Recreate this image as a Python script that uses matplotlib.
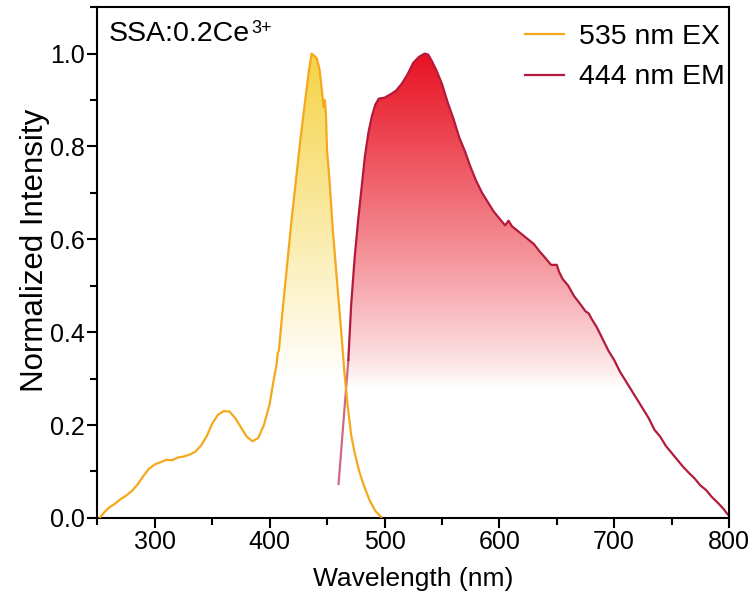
import numpy as np
import matplotlib
matplotlib.use("Agg")
import matplotlib.pyplot as plt
from matplotlib.ticker import MultipleLocator

plt.rcParams['font.family'] = ['Liberation Sans', 'DejaVu Sans']

# ---------------- data ----------------
ex_wl = [252, 256, 260, 265, 270, 275, 280, 285, 290, 295, 300, 305, 310, 315,
         320, 325, 330, 335, 340, 345, 350, 355, 360, 365, 370, 375, 380, 385,
         390, 395, 400, 403, 406, 407, 408, 411, 415, 419, 423, 427, 431, 434,
         436.5, 439, 441, 443.5, 445.5, 447, 448, 449, 450, 452, 455, 458, 461,
         463, 465, 468, 471, 474, 478, 482, 487, 492, 497]
ex_int = [0.0, 0.012, 0.022, 0.03, 0.04, 0.048, 0.058, 0.072, 0.09, 0.106,
          0.115, 0.12, 0.125, 0.124, 0.13, 0.132, 0.136, 0.142, 0.155, 0.175,
          0.203, 0.222, 0.23, 0.229, 0.215, 0.195, 0.175, 0.165, 0.172, 0.2,
          0.245, 0.29, 0.33, 0.355, 0.36, 0.44, 0.54, 0.64, 0.73, 0.82, 0.9,
          0.96, 1.0, 0.995, 0.99, 0.965, 0.92, 0.885, 0.9, 0.87, 0.79, 0.73,
          0.62, 0.53, 0.44, 0.38, 0.315, 0.24, 0.178, 0.14, 0.1, 0.07, 0.038,
          0.015, 0.002]

em_wl = [460, 468.5, 471, 474, 477, 480, 483, 486, 489, 492, 495, 500, 505,
         510, 515, 520, 525, 530, 535, 538, 541, 545, 550, 555, 560, 565, 570,
         575, 580, 585, 590, 595, 600, 605, 608, 611, 615, 620, 625, 630, 635,
         640, 645, 650, 652, 655, 660, 665, 670, 675, 678, 680, 685, 690, 695,
         700, 705, 710, 715, 720, 725, 730, 735, 740, 745, 750, 755, 760, 765,
         770, 775, 780, 785, 790, 795, 798, 800]
em_int = [0.073, 0.34, 0.46, 0.56, 0.64, 0.71, 0.78, 0.83, 0.865, 0.89, 0.903,
          0.905, 0.912, 0.92, 0.935, 0.955, 0.98, 0.993, 1.0, 0.998, 0.985,
          0.965, 0.935, 0.895, 0.86, 0.82, 0.79, 0.755, 0.725, 0.7, 0.68, 0.66,
          0.645, 0.63, 0.64, 0.628, 0.62, 0.61, 0.6, 0.59, 0.574, 0.56, 0.545,
          0.545, 0.53, 0.515, 0.5, 0.478, 0.462, 0.445, 0.44, 0.43, 0.41, 0.385,
          0.36, 0.34, 0.315, 0.295, 0.275, 0.255, 0.235, 0.215, 0.19, 0.175,
          0.155, 0.14, 0.125, 0.11, 0.097, 0.085, 0.07, 0.06, 0.045, 0.033,
          0.02, 0.01, 0.005]

ex_label = "535 nm EX"
em_label = "444 nm EM"
sample_label = "SSA:0.2Ce"
sample_sup = "3+"

ex_color = "#f5a81c"
em_color = "#b31b3c"

# ---------------- figure ----------------
fig = plt.figure(figsize=(7.55, 5.98), dpi=100)
ax = fig.add_axes([0.129, 0.134, 0.8366, 0.854])
ax.set_xlim(250, 800)
ax.set_ylim(0, 1.1)


def gradient_fill(x, y, rgb, y0, y1, xmask, gamma=1.0):
    x = np.asarray(x, float)
    y = np.asarray(y, float)
    m = (x >= xmask[0]) & (x <= xmask[1])
    poly = ax.fill_between(x[m], 0, y[m], color='none', lw=0)
    ys = np.linspace(0, 1.1, 400)
    a = np.clip((ys - y0) / (y1 - y0), 0, 1) ** gamma
    img = np.zeros((len(ys), 2, 4))
    img[..., 0] = rgb[0]
    img[..., 1] = rgb[1]
    img[..., 2] = rgb[2]
    img[..., 3] = a[:, None]
    im = ax.imshow(img, extent=(250, 800, 0, 1.1), origin='lower',
                   aspect='auto', interpolation='bilinear', zorder=1)
    path = poly.get_paths()[0]
    im.set_clip_path(path, transform=ax.transData)


gradient_fill(ex_wl, ex_int, (0.96, 0.83, 0.27), 0.30, 1.0, (400, 470))
gradient_fill(em_wl, em_int, (0.91, 0.07, 0.13), 0.28, 1.0, (459, 800),
              gamma=0.85)

ax.plot(em_wl[:2], em_int[:2], color=em_color, lw=1.6, alpha=0.65, zorder=2)
ax.plot(em_wl[1:], em_int[1:], color=em_color, lw=1.6, zorder=2,
        label=em_label)
ax.plot(ex_wl, ex_int, color=ex_color, lw=1.6, zorder=3, label=ex_label)

ax.set_xlim(250, 800)
ax.set_ylim(0, 1.1)

handles, labels = ax.get_legend_handles_labels()
leg = ax.legend(handles[::-1], labels[::-1], loc='upper right', frameon=False,
                fontsize=20.5, handlelength=1.4, handletextpad=0.5,
                labelspacing=0.5, borderaxespad=0.2,
                bbox_to_anchor=(1.02, 1.0))

t = ax.text(0.018, 0.972, sample_label, transform=ax.transAxes, fontsize=20.5,
            ha='left', va='top')
ax.annotate(sample_sup, xy=(1.0, 1.0), xycoords=t, xytext=(1, 1),
            textcoords='offset points', fontsize=13, ha='left', va='top')

ax.xaxis.set_major_locator(MultipleLocator(100))
ax.xaxis.set_minor_locator(MultipleLocator(50))
ax.yaxis.set_major_locator(MultipleLocator(0.2))
ax.yaxis.set_minor_locator(MultipleLocator(0.1))
ax.yaxis.set_major_formatter(plt.FuncFormatter(lambda v, p: f"{v:.1f}"))

ax.tick_params(axis='both', which='major', direction='out', length=7,
               width=1.5, labelsize=18, pad=2)
ax.tick_params(axis='both', which='minor', direction='out', length=5,
               width=1.5)
ax.tick_params(top=False, right=False, which='both')
for s in ax.spines.values():
    s.set_linewidth(1.5)

ax.set_xlabel("Wavelength (nm)", fontsize=19, labelpad=9)
ax.set_ylabel("Normalized Intensity", fontsize=22.5)
ax.yaxis.set_label_coords(-0.075, 0.524)

fig.savefig("out.png", dpi=100)
